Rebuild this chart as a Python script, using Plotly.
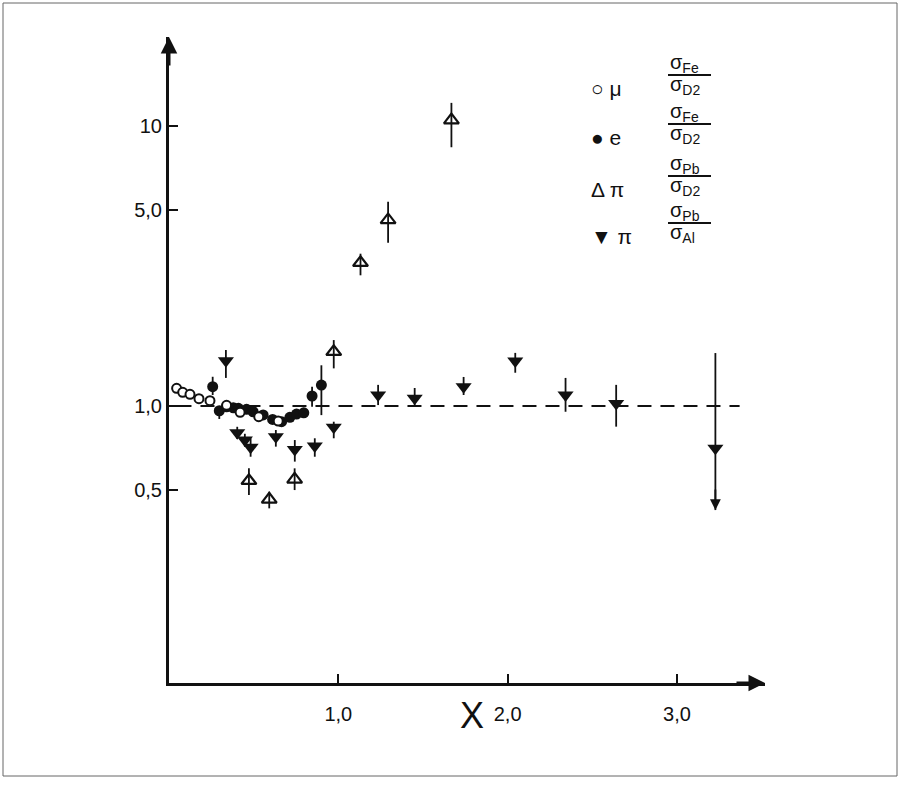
import plotly.graph_objects as go
import math

# ---------------- data ----------------
MU_X = [0.045, 0.081, 0.124, 0.177, 0.242, 0.34, 0.42, 0.53, 0.645]
MU_Y = [1.157, 1.119, 1.101, 1.062, 1.045, 1.006, 0.95, 0.916, 0.884]

E_X = [0.258, 0.297, 0.34, 0.38, 0.41, 0.458, 0.497, 0.556, 0.612, 0.665, 0.714, 0.753, 0.796, 0.845, 0.90]
E_Y = [1.172, 0.962, 0.994, 0.986, 0.981, 0.973, 0.954, 0.929, 0.896, 0.879, 0.911, 0.936, 0.946, 1.086, 1.188]
E_UP = [0.10, 0.02, 0.01, 0.01, 0.01, 0.01, 0.015, 0.015, 0.02, 0.03, 0.03, 0.03, 0.03, 0.086, 0.21]
E_DN = [0.077, 0.063, 0.01, 0.01, 0.01, 0.01, 0.015, 0.015, 0.02, 0.03, 0.03, 0.03, 0.03, 0.092, 0.26]

PBD_X = [0.472, 0.592, 0.742, 0.973, 1.131, 1.294, 1.668]
PBD_Y = [0.541, 0.464, 0.547, 1.563, 3.25, 4.62, 10.5]
PBD_UP = [0.058, 0.03, 0.052, 0.157, 0.25, 0.75, 1.6]
PBD_DN = [0.06, 0.033, 0.046, 0.2, 0.32, 0.79, 2.1]

PBAL_X = [0.336, 0.403, 0.448, 0.482, 0.631, 0.743, 0.861, 0.973, 1.235, 1.451, 1.74, 2.045, 2.342, 2.641, 3.227]
PBAL_Y = [1.45, 0.803, 0.756, 0.712, 0.777, 0.70, 0.72, 0.839, 1.095, 1.065, 1.172, 1.448, 1.095, 1.022, 0.706]
PBAL_UP = [0.135, 0.04, 0.04, 0.055, 0.044, 0.056, 0.047, 0.04, 0.095, 0.095, 0.098, 0.10, 0.165, 0.168, 0.84]
PBAL_DN = [0.19, 0.04, 0.04, 0.053, 0.061, 0.067, 0.061, 0.072, 0.087, 0.057, 0.077, 0.133, 0.141, 0.178, 0.281]

REF_X = [0.05, 3.37]
REF_Y = [1.0, 1.0]

X_TICKS = [1, 2, 3]
X_TICK_TEXT = ["1,0", "2,0", "3,0"]
Y_TICKS = [0.5, 1, 5, 10]
Y_TICK_TEXT = ["0,5", "1,0", "5,0", "10"]
X_TITLE = "X"

LEGEND_SYMBOLS = ["○ μ", "● e", "Δ π", "▼ π"]
LEGEND_NUM = ["σ<sub>Fe</sub>", "σ<sub>Fe</sub>", "σ<sub>Pb</sub>", "σ<sub>Pb</sub>"]
LEGEND_DEN = ["σ<sub>D2</sub>", "σ<sub>D2</sub>", "σ<sub>D2</sub>", "σ<sub>Al</sub>"]

X_RANGE = [0.0, 3.52]
Y_RANGE = [0.1025, 20.8]

# ---------------- layout geometry ----------------
W, H = 920, 786
ML, MR, MT, MB = 169, 155, 37, 103
PW, PH = W - ML - MR, H - MT - MB


def px(x):
    return (x - ML) / PW


def py(y):
    return (H - MB - y) / PH


FONT = "Liberation Sans, Arial, sans-serif"
BLACK = "#111111"

fig = go.Figure()

fig.add_trace(go.Scatter(
    x=REF_X, y=REF_Y, mode="lines",
    line=dict(color=BLACK, width=2, dash="14px,9px"), hoverinfo="skip"))

err_style = dict(type="data", symmetric=False, color=BLACK, thickness=1.8, width=0)

fig.add_trace(go.Scatter(
    x=PBAL_X, y=PBAL_Y, mode="markers", name="π σPb/σAl",
    error_y=dict(array=PBAL_UP, arrayminus=PBAL_DN, **err_style),
    marker=dict(symbol="triangle-down", size=14, color=BLACK, line=dict(width=0))))

fig.add_trace(go.Scatter(
    x=PBD_X, y=PBD_Y, mode="markers", name="π σPb/σD2",
    error_y=dict(array=PBD_UP, arrayminus=PBD_DN, **err_style),
    marker=dict(symbol="triangle-up-open", size=13, color=BLACK, line=dict(width=2.2, color=BLACK))))

fig.add_trace(go.Scatter(
    x=E_X, y=E_Y, mode="markers", name="e σFe/σD2",
    error_y=dict(array=E_UP, arrayminus=E_DN, **err_style),
    marker=dict(symbol="circle", size=11, color=BLACK)))

fig.add_trace(go.Scatter(
    x=MU_X, y=MU_Y, mode="markers", name="μ σFe/σD2",
    marker=dict(symbol="circle", size=9, color="white", line=dict(width=2, color=BLACK))))

annotations = []
# lower end arrow of the last error bar
annotations.append(dict(x=PBAL_X[-1], y=math.log10(PBAL_Y[-1] - PBAL_DN[-1]), xref="x", yref="y",
                        text="", showarrow=True, ax=0, ay=-22, arrowhead=2, arrowsize=1.2,
                        arrowwidth=1.8, arrowcolor=BLACK))
# axis arrows
annotations.append(dict(x=0, y=1, xref="paper", yref="paper", text="", showarrow=True,
                        ax=0, ay=30, arrowhead=2, arrowsize=1.1, arrowwidth=3, arrowcolor=BLACK))
annotations.append(dict(x=1, y=0, xref="paper", yref="paper", text="", showarrow=True,
                        ax=-30, ay=0, arrowhead=2, arrowsize=1.1, arrowwidth=3, arrowcolor=BLACK))
# axis title
annotations.append(dict(x=px(472), y=py(738), xref="paper", yref="paper", text=X_TITLE,
                        showarrow=False, font=dict(family=FONT, size=36, color=BLACK)))

# hand drawn legend
ROW_Y = [75, 124, 176, 223]
shapes = []
for sym, num, den, yc in zip(LEGEND_SYMBOLS, LEGEND_NUM, LEGEND_DEN, ROW_Y):
    annotations.append(dict(x=px(589), y=py(yc), xref="paper", yref="paper", text=sym,
                            xanchor="left", showarrow=False,
                            font=dict(family=FONT, size=21, color=BLACK)))
    annotations.append(dict(x=px(668), y=py(yc + 3), xref="paper", yref="paper", text=num,
                            xanchor="left", yanchor="bottom", showarrow=False,
                            font=dict(family=FONT, size=20, color=BLACK)))
    annotations.append(dict(x=px(668), y=py(yc - 4), xref="paper", yref="paper", text=den,
                            xanchor="left", yanchor="top", showarrow=False,
                            font=dict(family=FONT, size=20, color=BLACK)))
    shapes.append(dict(type="line", xref="paper", yref="paper", x0=px(668), x1=px(711),
                       y0=py(yc), y1=py(yc), line=dict(color=BLACK, width=2)))

# outer frame of the scan
shapes.append(dict(type="rect", xref="paper", yref="paper", x0=px(3), x1=px(897),
                   y0=py(776), y1=py(3), line=dict(color="#666666", width=1)))

fig.update_layout(
    width=W, height=H,
    margin=dict(l=ML, r=MR, t=MT, b=MB),
    paper_bgcolor="white", plot_bgcolor="white",
    showlegend=False,
    annotations=annotations,
    shapes=shapes,
    font=dict(family=FONT, color=BLACK),
    xaxis=dict(range=X_RANGE, showgrid=False, zeroline=False, showline=True,
               linecolor=BLACK, linewidth=3, ticks="inside", ticklen=9, tickwidth=2,
               tickcolor=BLACK, tickvals=X_TICKS, ticktext=X_TICK_TEXT,
               tickfont=dict(family=FONT, size=20, color=BLACK), ticklabelstandoff=11),
    yaxis=dict(type="log", range=[math.log10(Y_RANGE[0]), math.log10(Y_RANGE[1])],
               showgrid=False, zeroline=False, showline=True, linecolor=BLACK,
               linewidth=3, ticks="inside", ticklen=9, tickwidth=2, tickcolor=BLACK,
               tickvals=Y_TICKS, ticktext=Y_TICK_TEXT,
               tickfont=dict(family=FONT, size=20, color=BLACK)),
)

fig.write_html("out.html")
